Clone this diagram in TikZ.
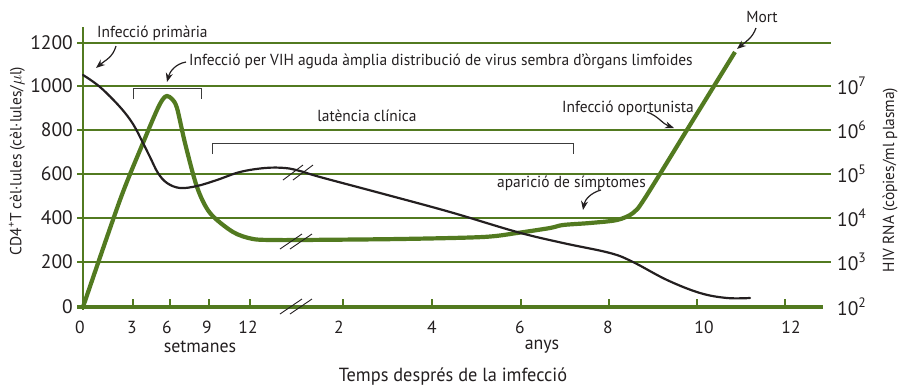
\documentclass[tikz,border=0pt]{standalone}
\usepackage{fontspec}
\setmainfont{PT Sans}
\newfontfamily\lblfont[FakeStretch=0.965]{PT Sans}
\usetikzlibrary{arrows.meta}
\definecolor{grn}{RGB}{82,122,32}
\definecolor{blk}{RGB}{35,31,32}
\definecolor{brk}{RGB}{60,60,60}
\begin{document}
\begin{tikzpicture}[x=1pt,y=-1pt,
  lbl/.style={inner sep=0pt,text=blk,font=\lblfont\fontsize{16}{18}\selectfont},
  big/.style={inner sep=0pt,text=blk,font=\lblfont\fontsize{18.5}{21}\selectfont},
  num/.style={inner sep=0pt,text=blk,font=\fontsize{19.5}{22}\selectfont},
  tnum/.style={inner sep=0pt,text=blk,font=\fontsize{17.5}{20}\selectfont},
  grid/.style={grn,line width=1.3pt},
  cd4/.style={blk,line width=2.2pt,line cap=round},
  rna/.style={grn,line width=4.2pt},
  arr/.style={blk,line width=1.2pt,-{Stealth[length=9pt,width=7pt]}},
  brack/.style={brk,line width=1pt},
  brkmark/.style={blk,line width=0.9pt},
  tick/.style={grn,line width=1.3pt}]
\useasboundingbox (0,0) rectangle (898,389);
% grid lines
\foreach \yy in {43,86,130,174,218,262}{
  \draw[grid] (77,\yy) -- (831,\yy);
}
\draw[grid] (83,27) -- (83,310);
% x axis
\draw[rna] (77,307) -- (823,307);
\foreach \xx in {133,170,209,250,343,432,521,609,697,785}{
  \draw[tick] (\xx,299) -- (\xx,307);
}
% left numbers
\node[num,anchor=east] (l1200) at (73,43) {1200};
\node[num,anchor=east] (l1000) at (73,86) {1000};
\node[num,anchor=east] (l800) at (73,130) {800};
\node[num,anchor=east] (l600) at (73,174) {600};
\node[num,anchor=east] (l400) at (73,218) {400};
\node[num,anchor=east] (l200) at (73,262) {200};
\node[num,anchor=east] (l0) at (73,307) {0};
% right numbers
\node[num,anchor=west] (r7) at (837,86) {10\textsuperscript{7}};
\node[num,anchor=west] (r6) at (837,130) {10\textsuperscript{6}};
\node[num,anchor=west] (r5) at (837,174) {10\textsuperscript{5}};
\node[num,anchor=west] (r4) at (837,218) {10\textsuperscript{4}};
\node[num,anchor=west] (r3) at (837,262) {10\textsuperscript{3}};
\node[num,anchor=west] (r2) at (837,307) {10\textsuperscript{2}};
% x tick labels
\node[tnum] (x0) at (80,327) {0};
\node[tnum] (x3) at (132,327) {3};
\node[tnum] (x6) at (167,327) {6};
\node[tnum] (x9) at (207,327) {9};
\node[tnum] (x12) at (248,327) {12};
\node[tnum] (y2) at (339,327) {2};
\node[tnum] (y4) at (432,327) {4};
\node[tnum] (y6) at (520,327) {6};
\node[tnum] (y8) at (608,327) {8};
\node[tnum] (y10) at (704,327) {10};
\node[tnum] (y12) at (791,327) {12};
\node[big] (setm) at (200,347) {setmanes};
\node[big] (anys) at (542,347) {anys};
\node[big,font=\lblfont\fontsize{19}{22}\selectfont] (temps) at (453,377) {Temps després de la imfecció};
% axis titles
\node[lbl,rotate=90] (ytitle) at (17,161) {CD4\textsuperscript{+}T cèl·lules (cèl·lules/$\mu$l)};
\node[lbl,rotate=90] (rtitle) at (890,180) {HIV RNA (còpies/ml plasma)};
% brackets
\draw[brack] (133,99) -- (133,88) -- (201,88) -- (201,99);
\draw[brack] (212,154) -- (212,143) -- (573,143) -- (573,154);
% curves
\draw[rna] plot[smooth,tension=0.5] coordinates {(83,307) (120,200) (143,143) (157,110) (163,99) (167,96) (172,99) (177,108) (185,143) (197,187) (210,213) (233,232) (253,239) (275,240) (300,240) (400,239) (483,237) (517,233) (550,228) (563,225) (590,223) (617,220) (633,213) (645,198) (690,125) (735,52)};
\draw[cd4] plot[smooth,tension=0.6] coordinates {(83,75) (100,87) (120,107) (133,124) (143,143) (150,157) (158,173) (167,183) (180,188) (197,186) (217,180) (240,172) (265,168) (285,168) (300,171) (320,177) (380,193) (450,212) (517,232) (563,243) (610,253) (633,262) (667,280) (700,293) (727,298) (750,298)};
% break marks
\foreach \by in {314,249}{
  \draw[brkmark] (280,\by) -- +(22,-15);
  \draw[brkmark] (290,\by) -- +(22,-15);
}
\draw[brkmark] (283,180) -- +(20,-15);
\draw[brkmark] (293,180) -- +(20,-15);
% labels and arrows
\node[lbl,anchor=west] (prim) at (97,33) {Infecció primària};
\node[lbl,anchor=west] (aguda) at (189,61) {Infecció per VIH aguda àmplia distribució de virus sembra d’òrgans limfoides};
\node[lbl] (lat) at (367,116) {latència clínica};
\node[lbl,anchor=west] (oport) at (562,108) {Infecció oportunista};
\node[lbl,anchor=west] (apar) at (497,183) {aparició de símptomes};
\node[lbl] (mort) at (762,17) {Mort};
\coordinate (a1s) at (116,46); \coordinate (a1e) at (96,68);
\coordinate (a2s) at (186,62); \coordinate (a2e) at (167,82);
\coordinate (a3s) at (647,112); \coordinate (a3e) at (674,128);
\coordinate (a4s) at (601,190); \coordinate (a4e) at (583,210);
\coordinate (a5s) at (756,28); \coordinate (a5e) at (737,49);
\draw[arr] (a1s) to[out=-105,in=40] (a1e);
\draw[arr] (a2s) to[out=190,in=75] (a2e);
\draw[arr] (a3s) to[out=-20,in=160] (a3e);
\draw[arr] (a4s) to[out=195,in=80] (a4e);
\draw[arr] (a5s) to[out=-110,in=40] (a5e);
\end{tikzpicture}
\end{document}
